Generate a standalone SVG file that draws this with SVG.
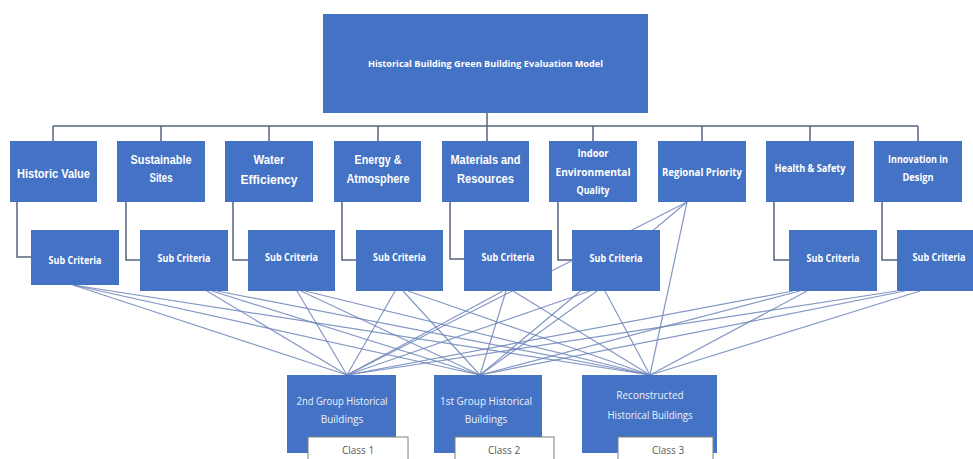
<svg xmlns="http://www.w3.org/2000/svg" width="973" height="459" viewBox="0 0 973 459">
<style>
.box{fill:#4472c4;}
.t{font-family:"Liberation Sans",Arial,sans-serif;font-weight:bold;fill:#ffffff;text-anchor:middle;}
.tc{font-family:"Open Sans","Liberation Sans",sans-serif;font-weight:bold;fill:#ffffff;text-anchor:middle;}
.tb{font-family:"Open Sans","Liberation Sans",sans-serif;fill:#eef2fa;text-anchor:middle;font-size:10px;}
.cls{fill:#ffffff;stroke:#7f7f7f;stroke-width:1;}
.ct{font-family:"Open Sans","Liberation Sans",sans-serif;fill:#595959;text-anchor:middle;font-size:10px;}
.tree{fill:none;stroke:#56657d;stroke-width:1.5;}
.ln{fill:none;stroke:#6e86ba;stroke-width:1.2;stroke-opacity:0.85;}
</style>
<rect width="973" height="459" fill="#ffffff"/>
<g id="connectors">
<path class="tree" d="M487,113V126M53,126H918M53,126V141M161,126V141M269,126V141M378,126V141M487,126V141M593,126V141M702,126V141M810,126V141M918,126V141"/>
<path class="tree" d="M17,202V257H31M126,202V260H140M233,202V260H248M342,202V260H356M450,202V259H464M558,202V260H572M774,202V260H789M882,202V260H897"/>
<g class="ln">
<line x1="73" y1="285" x2="347" y2="375"/><line x1="73" y1="285" x2="480" y2="375"/><line x1="73" y1="285" x2="650" y2="375"/>
<line x1="207" y1="291" x2="347" y2="375"/><line x1="212" y1="291" x2="480" y2="375"/><line x1="217" y1="291" x2="650" y2="375"/>
<line x1="297" y1="291" x2="347" y2="375"/><line x1="301" y1="291" x2="480" y2="375"/><line x1="305" y1="291" x2="650" y2="375"/>
<line x1="395" y1="291" x2="347" y2="375"/><line x1="403" y1="291" x2="480" y2="375"/><line x1="408" y1="291" x2="650" y2="375"/>
<line x1="503" y1="291" x2="347" y2="375"/><line x1="506" y1="291" x2="480" y2="375"/><line x1="513" y1="291" x2="650" y2="375"/>
<line x1="590" y1="291" x2="347" y2="375"/><line x1="597" y1="291" x2="480" y2="375"/><line x1="605" y1="291" x2="650" y2="375"/>
<line x1="793" y1="291" x2="347" y2="375"/><line x1="800" y1="291" x2="480" y2="375"/><line x1="807" y1="291" x2="650" y2="375"/>
<line x1="897" y1="291" x2="347" y2="375"/><line x1="905" y1="291" x2="480" y2="375"/><line x1="920" y1="291" x2="650" y2="375"/>
<line x1="687" y1="202" x2="347" y2="375"/><line x1="687" y1="202" x2="480" y2="375"/><line x1="687" y1="202" x2="650" y2="375"/>
</g>
</g>
<g id="root">
<rect class="box" x="323" y="14" width="325" height="99"/>
<text class="tc" x="485.5" y="66.5" font-size="9.5" textLength="235" lengthAdjust="spacingAndGlyphs">Historical Building Green Building Evaluation Model</text>
</g>
<g id="c1"><rect class="box" x="10" y="141" width="87" height="61"/>
<text class="t" x="53.5" y="177.5" font-size="12" textLength="73" lengthAdjust="spacingAndGlyphs">Historic Value</text></g>
<g id="c2"><rect class="box" x="117" y="141" width="88" height="61"/>
<text class="t" x="161" y="163.5" font-size="12" textLength="61" lengthAdjust="spacingAndGlyphs">Sustainable</text>
<text class="t" x="161" y="181.5" font-size="12" textLength="23" lengthAdjust="spacingAndGlyphs">Sites</text></g>
<g id="c3"><rect class="box" x="225" y="141" width="88" height="61"/>
<text class="t" x="269" y="164" font-size="12" textLength="31" lengthAdjust="spacingAndGlyphs">Water</text>
<text class="t" x="269" y="183.5" font-size="12" textLength="57" lengthAdjust="spacingAndGlyphs">Efficiency</text></g>
<g id="c4"><rect class="box" x="334" y="141" width="87" height="61"/>
<text class="t" x="378" y="164" font-size="12" textLength="47" lengthAdjust="spacingAndGlyphs">Energy &amp;</text>
<text class="t" x="378" y="183" font-size="12" textLength="63" lengthAdjust="spacingAndGlyphs">Atmosphere</text></g>
<g id="c5"><rect class="box" x="442" y="141" width="87" height="61"/>
<text class="t" x="485.5" y="164" font-size="12" textLength="70" lengthAdjust="spacingAndGlyphs">Materials and</text>
<text class="t" x="485.5" y="182.5" font-size="12" textLength="57" lengthAdjust="spacingAndGlyphs">Resources</text></g>
<g id="c6"><rect class="box" x="549" y="141" width="88" height="61"/>
<text class="tc" x="593" y="157" font-size="10" textLength="31" lengthAdjust="spacingAndGlyphs">Indoor</text>
<text class="tc" x="593" y="175.5" font-size="10" textLength="75" lengthAdjust="spacingAndGlyphs">Environmental</text>
<text class="tc" x="593" y="193.5" font-size="10" textLength="33" lengthAdjust="spacingAndGlyphs">Quality</text></g>
<g id="c7"><rect class="box" x="658" y="141" width="88" height="61"/>
<text class="tc" x="702" y="175.5" font-size="10" textLength="80" lengthAdjust="spacingAndGlyphs">Regional Priority</text></g>
<g id="c8"><rect class="box" x="766" y="141" width="88" height="61"/>
<text class="tc" x="810" y="171.5" font-size="10" textLength="71" lengthAdjust="spacingAndGlyphs">Health &amp; Safety</text></g>
<g id="c9"><rect class="box" x="874" y="141" width="88" height="61"/>
<text class="tc" x="918" y="162.5" font-size="10" textLength="60" lengthAdjust="spacingAndGlyphs">Innovation in</text>
<text class="tc" x="918" y="180.5" font-size="10" textLength="31" lengthAdjust="spacingAndGlyphs">Design</text></g>
<g id="s1"><rect class="box" x="31" y="230" width="88" height="55"/>
<text class="tc" x="75" y="264" font-size="10" textLength="53" lengthAdjust="spacingAndGlyphs">Sub Criteria</text></g>
<g id="s2"><rect class="box" x="140" y="230" width="88" height="61"/>
<text class="tc" x="184" y="262" font-size="10" textLength="53" lengthAdjust="spacingAndGlyphs">Sub Criteria</text></g>
<g id="s3"><rect class="box" x="248" y="230" width="87" height="61"/>
<text class="tc" x="291.5" y="261" font-size="10" textLength="53" lengthAdjust="spacingAndGlyphs">Sub Criteria</text></g>
<g id="s4"><rect class="box" x="356" y="230" width="87" height="61"/>
<text class="tc" x="399.5" y="261" font-size="10" textLength="53" lengthAdjust="spacingAndGlyphs">Sub Criteria</text></g>
<g id="s5"><rect class="box" x="464" y="230" width="88" height="61"/>
<text class="tc" x="508" y="261" font-size="10" textLength="53" lengthAdjust="spacingAndGlyphs">Sub Criteria</text></g>
<g id="s6"><rect class="box" x="572" y="230" width="88" height="61"/>
<text class="tc" x="616" y="262" font-size="10" textLength="53" lengthAdjust="spacingAndGlyphs">Sub Criteria</text></g>
<g id="s7"><rect class="box" x="789" y="230" width="88" height="61"/>
<text class="tc" x="833" y="262" font-size="10" textLength="53" lengthAdjust="spacingAndGlyphs">Sub Criteria</text></g>
<g id="s8"><rect class="box" x="897" y="230" width="88" height="61"/>
<text class="tc" x="939" y="261" font-size="10" textLength="53" lengthAdjust="spacingAndGlyphs">Sub Criteria</text></g>
<g id="b1"><rect class="box" x="287" y="375" width="109" height="78"/>
<text class="tb" x="342" y="405" textLength="91" lengthAdjust="spacingAndGlyphs">2nd Group Historical</text>
<text class="tb" x="342" y="423">Buildings</text>
<rect class="cls" x="308" y="437" width="100" height="30"/>
<text class="ct" x="358" y="453.5">Class 1</text></g>
<g id="b2"><rect class="box" x="434" y="375" width="108" height="78"/>
<text class="tb" x="486" y="405" textLength="92" lengthAdjust="spacingAndGlyphs">1st Group Historical</text>
<text class="tb" x="486" y="423">Buildings</text>
<rect class="cls" x="455" y="437" width="99" height="30"/>
<text class="ct" x="504" y="453.5">Class 2</text></g>
<g id="b3"><rect class="box" x="582" y="375" width="135" height="78"/>
<text class="tb" x="650" y="398.5">Reconstructed</text>
<text class="tb" x="650" y="418.5" textLength="85" lengthAdjust="spacingAndGlyphs">Historical Buildings</text>
<rect class="cls" x="618" y="437" width="95" height="30"/>
<text class="ct" x="668" y="453.5">Class 3</text></g>
</svg>
